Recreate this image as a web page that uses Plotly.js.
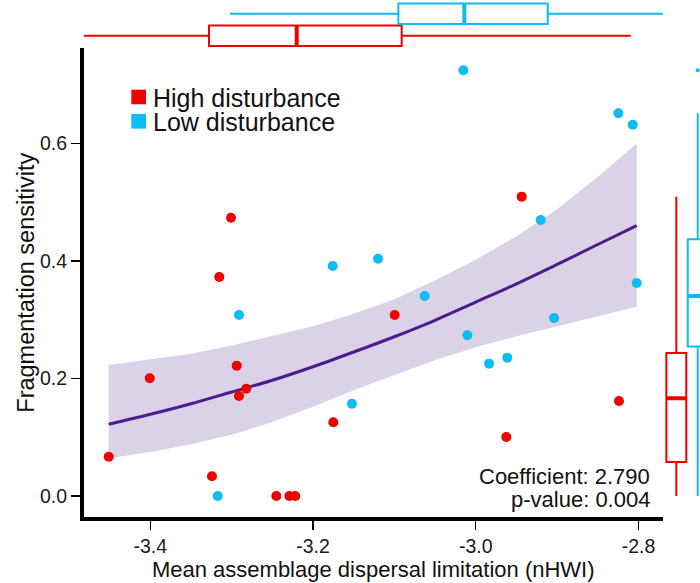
<!DOCTYPE html>
<html><head><meta charset="utf-8">
<script src="https://cdn.plot.ly/plotly-3.0.1.min.js"></script>
<style>html,body{margin:0;padding:0;background:#fff}#chart{width:700px;height:583px}</style>
</head><body><div id="chart"></div>
<script>
// ---------- data ----------
const groupNames = ['High disturbance', 'Low disturbance'];
const groupColors = ['#f20000', '#0cbcf2'];

const highX = [-3.4511, -3.4007, -3.2938, -3.2820, -3.2910, -3.3242, -3.2451, -3.2291, -3.2218, -3.1750, -3.3008, -3.3152, -3.0996, -2.9435, -2.9624, -2.8239];
const highY = [0.0669, 0.2003, 0.2218, 0.1826, 0.1702, 0.0335, 0.0000, 0.0000, 0.0000, 0.1254, 0.4736, 0.3727, 0.3080, 0.5094, 0.1004, 0.1617];

const lowX = [-3.3171, -3.2910, -3.1758, -3.1201, -3.1521, -3.0627, -3.0152, -3.0103, -2.9836, -2.9612, -2.9201, -2.9037, -2.8247, -2.8070, -2.8021];
const lowY = [0.0000, 0.3080, 0.3914, 0.4038, 0.1571, 0.3404, 0.7245, 0.2735, 0.2252, 0.2354, 0.4697, 0.3029, 0.6513, 0.6319, 0.3625];

// fitted curve and its confidence band
const fitX     = [-3.4511, -3.40, -3.35, -3.30, -3.25, -3.20, -3.15, -3.10, -3.05, -3.00, -2.95, -2.90, -2.85, -2.8021];
const fitY     = [0.122, 0.139, 0.157, 0.177, 0.197, 0.220, 0.245, 0.271, 0.299, 0.330, 0.361, 0.394, 0.428, 0.460];
const fitUpper = [0.223, 0.232, 0.242, 0.256, 0.272, 0.289, 0.310, 0.335, 0.367, 0.402, 0.442, 0.488, 0.543, 0.600];
const fitLower = [0.064, 0.075, 0.088, 0.104, 0.126, 0.152, 0.180, 0.206, 0.231, 0.253, 0.272, 0.290, 0.306, 0.322];

// marginal box plot on top (x values), [high, low]
const topLower  = [-3.4820, -3.3020];
const topQ1     = [-3.3278, -3.0951];
const topMedian = [-3.2200, -3.0140];
const topQ3     = [-3.0910, -2.9115];
const topUpper  = [-2.8095, -2.7700];

// marginal box plot on the right (y values), [high, low]
const rightLower  = [0.0000, 0.0000];
const rightQ1     = [0.0579, 0.2545];
const rightMedian = [0.1663, 0.3404];
const rightQ3     = [0.2434, 0.4369];
const rightUpper  = [0.5094, 0.6513];

const xTickVals = [-3.4, -3.2, -3.0, -2.8];
const xTickText = ['-3.4', '-3.2', '-3.0', '-2.8'];
const yTickVals = [0, 0.2, 0.4, 0.6];
const yTickText = ['0.0', '0.2', '0.4', '0.6'];

const xTitle = 'Mean assemblage dispersal limitation (nHWI)';
const yTitle = 'Fragmentation sensitivity';
const statLines = ['Coefficient: 2.790', 'p-value: 0.004'];

// ---------- layout helpers (pixels -> paper) ----------
const W = 700, H = 583;
const PX = v => v / W;
const PY = v => 1 - v / H;
const FONT = 'Liberation Sans, Arial, Helvetica, sans-serif';

const xRange = [-3.4821, -2.7698];
const yRange = [-0.0362, 0.7619];
const xDom = [PX(83.5), PX(663)];
const yDom = [PY(517.25), PY(48.3)];
const boxW = 0.93;

const traces = [];

// confidence band
traces.push({
  type: 'scatter', mode: 'lines',
  x: fitX.concat(fitX.slice().reverse()),
  y: fitUpper.concat(fitLower.slice().reverse()),
  fill: 'toself', fillcolor: '#dcd2e8', line: {width: 0},
  hoverinfo: 'skip', showlegend: false, xaxis: 'x', yaxis: 'y'
});
// fitted line
traces.push({
  type: 'scatter', mode: 'lines', x: fitX, y: fitY,
  line: {color: '#4a1c8c', width: 3, shape: 'spline'},
  showlegend: false, xaxis: 'x', yaxis: 'y'
});
// points
[[highX, highY], [lowX, lowY]].forEach((d, i) => {
  traces.push({
    type: 'scatter', mode: 'markers', name: groupNames[i],
    x: d[0], y: d[1],
    marker: {color: groupColors[i], size: 10, line: {width: 0}},
    showlegend: false, xaxis: 'x', yaxis: 'y'
  });
});

// top marginal boxes (horizontal)
[0, 1].forEach(i => {
  traces.push({
    type: 'box', orientation: 'h', name: groupNames[i],
    y: [i], q1: [topQ1[i]], median: [topMedian[i]], q3: [topQ3[i]],
    lowerfence: [topLower[i]], upperfence: [topUpper[i]],
    width: boxW, whiskerwidth: 0, fillcolor: 'rgba(255,255,255,1)',
    line: {color: groupColors[i], width: 2},
    showlegend: false, xaxis: 'x2', yaxis: 'y2', hoverinfo: 'skip'
  });
  traces.push({
    type: 'scatter', mode: 'lines',
    x: [topMedian[i], topMedian[i]], y: [i - boxW / 2, i + boxW / 2],
    line: {color: groupColors[i], width: 4},
    showlegend: false, xaxis: 'x2', yaxis: 'y2', hoverinfo: 'skip'
  });
});

// right marginal boxes (vertical)
[0, 1].forEach(i => {
  traces.push({
    type: 'box', orientation: 'v', name: groupNames[i],
    x: [i], q1: [rightQ1[i]], median: [rightMedian[i]], q3: [rightQ3[i]],
    lowerfence: [rightLower[i]], upperfence: [rightUpper[i]],
    width: boxW, whiskerwidth: 0, fillcolor: 'rgba(255,255,255,1)',
    line: {color: groupColors[i], width: 2},
    showlegend: false, xaxis: 'x3', yaxis: 'y3', hoverinfo: 'skip'
  });
  traces.push({
    type: 'scatter', mode: 'lines',
    y: [rightMedian[i], rightMedian[i]], x: [i - boxW / 2, i + boxW / 2],
    line: {color: groupColors[i], width: 4},
    showlegend: false, xaxis: 'x3', yaxis: 'y3', hoverinfo: 'skip'
  });
});
// outliers of the right low-disturbance box
const lowFence = rightQ3[1] + 1.5 * (rightQ3[1] - rightQ1[1]);
const lowOut = lowY.filter(v => v > lowFence);
traces.push({
  type: 'scatter', mode: 'markers',
  x: lowOut.map(() => 1), y: lowOut,
  marker: {color: groupColors[1], size: 4},
  showlegend: false, xaxis: 'x3', yaxis: 'y3', hoverinfo: 'skip'
});

const axisCommon = {
  showline: true, linewidth: 3.5, linecolor: '#000',
  ticks: 'outside', ticklen: 9, tickwidth: 1.5, tickcolor: '#000',
  tickfont: {family: FONT, size: 19.5, color: '#1a1a1a'},
  showgrid: false, zeroline: false, fixedrange: true, automargin: false
};

const annotations = [];
const shapes = [];
// legend (squares + labels)
const legendRows = [{top: 89.7, bot: 104.3, mid: 98.2}, {top: 113.9, bot: 128.6, mid: 122.2}];
groupNames.forEach((name, i) => {
  shapes.push({
    type: 'rect', xref: 'paper', yref: 'paper',
    x0: PX(131.3), x1: PX(146), y0: PY(legendRows[i].bot), y1: PY(legendRows[i].top),
    fillcolor: groupColors[i], line: {width: 0}
  });
  annotations.push({
    xref: 'paper', yref: 'paper', x: PX(150.5), y: PY(legendRows[i].mid),
    xanchor: 'left', yanchor: 'middle', showarrow: false, text: name,
    font: {family: FONT, size: 25, color: '#111'}
  });
});
// statistics text
[476.6, 499.6].forEach((yy, i) => {
  annotations.push({
    xref: 'paper', yref: 'paper', x: PX(652), y: PY(yy),
    xanchor: 'right', yanchor: 'middle', showarrow: false, text: statLines[i],
    font: {family: FONT, size: 22, color: '#111'}
  });
});

const layout = {
  width: W, height: H,
  margin: {l: 0, r: 0, t: 0, b: 0},
  paper_bgcolor: '#fff', plot_bgcolor: 'rgba(0,0,0,0)',
  font: {family: FONT, color: '#111'},
  showlegend: false,
  xaxis: Object.assign({}, axisCommon, {
    domain: xDom, range: xRange, anchor: 'y',
    tickvals: xTickVals, ticktext: xTickText,
    title: {text: xTitle, font: {family: FONT, size: 22, color: '#111'}, standoff: 6}
  }),
  yaxis: Object.assign({}, axisCommon, {
    domain: yDom, range: yRange, anchor: 'x',
    tickvals: yTickVals, ticktext: yTickText,
    title: {text: yTitle, font: {family: FONT, size: 23.5, color: '#111'}, standoff: 0}
  }),
  xaxis2: {domain: xDom, range: xRange, anchor: 'y2', visible: false, fixedrange: true},
  yaxis2: {domain: [PY(47), 1], range: [-0.507, 1.62], anchor: 'x2', visible: false, fixedrange: true},
  xaxis3: {domain: [PX(664), 1], range: [-0.575, 1.107], anchor: 'y3', visible: false, fixedrange: true},
  yaxis3: {domain: yDom, range: yRange, anchor: 'x3', visible: false, fixedrange: true},
  annotations: annotations,
  shapes: shapes
};

Plotly.newPlot('chart', traces, layout, {staticPlot: true, displayModeBar: false});
</script>
</body></html>
